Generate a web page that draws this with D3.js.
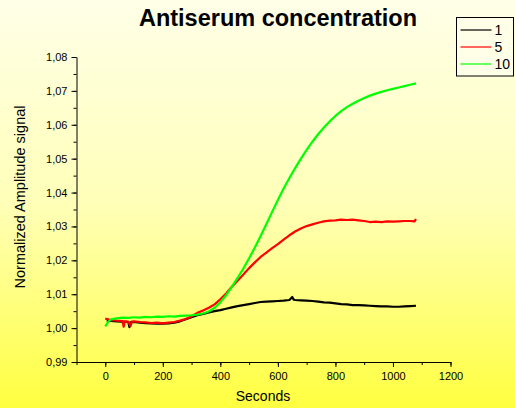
<!DOCTYPE html>
<html>
<head>
<meta charset="utf-8">
<script src="https://cdn.jsdelivr.net/npm/d3@7"></script>
<style>
  body { margin: 0; padding: 0; overflow: hidden; }
  svg { display: block; }
</style>
</head>
<body>
<div id="chart"></div>
<script>
// antiserum concentration - normalized amplitude vs time

const seriesNames = ["1", "5", "10"];
const seriesColors = ["#000000", "#ff0000", "#00ff00"];

// [seconds, normalized amplitude]
const series1 = [
	[5,1.0022],[20,1.0021],[40,1.0020],[60,1.0019],[80,1.0018],[84,1.0003],[88,1.0017],
	[100,1.0018],[120,1.0016],[140,1.0015],[160,1.0014],[180,1.0013],[200,1.0013],[220,1.0014],
	[240,1.0016],[260,1.0020],[280,1.0026],[300,1.0032],[320,1.0038],[340,1.0042],[360,1.0046],
	[380,1.0050],[400,1.0053],[420,1.0057],[440,1.0061],[460,1.0065],[480,1.0068],[500,1.0071],
	[520,1.0074],[540,1.0077],[560,1.0078],[580,1.0079],[600,1.0080],[620,1.0081],[640,1.0083],
	[650,1.0092],[655,1.0084],[660,1.0083],[680,1.0082],[700,1.0081],[720,1.0080],[740,1.0078],
	[760,1.0076],[780,1.0075],[800,1.0073],[820,1.0071],[840,1.0070],[860,1.0068],[880,1.0068],
	[900,1.0067],[920,1.0066],[940,1.0065],[960,1.0064],[980,1.0064],[1000,1.0063],[1020,1.0063],
	[1040,1.0064],[1060,1.0065],[1080,1.0066]
];
const series5 = [
	[0,1.0028],[20,1.0024],[40,1.0022],[60,1.0021],[64,1.0004],[68,1.0020],[80,1.0019],
	[88,1.0006],[92,1.0019],[100,1.0020],[120,1.0018],[140,1.0017],[160,1.0015],[180,1.0016],
	[200,1.0014],[220,1.0016],[240,1.0018],[260,1.0022],[280,1.0027],[300,1.0035],[320,1.0045],
	[340,1.0052],[360,1.0060],[380,1.0070],[400,1.0085],[420,1.0102],[440,1.0122],[460,1.0140],
	[480,1.0158],[500,1.0177],[520,1.0194],[540,1.0210],[560,1.0223],[580,1.0236],[600,1.0248],
	[620,1.0261],[640,1.0274],[660,1.0285],[680,1.0294],[700,1.0301],[720,1.0306],[740,1.0311],
	[760,1.0315],[780,1.0317],[800,1.0318],[820,1.0320],[840,1.0319],[860,1.0320],[880,1.0318],
	[900,1.0316],[920,1.0313],[940,1.0314],[960,1.0313],[980,1.0315],[1000,1.0314],[1020,1.0315],
	[1040,1.0316],[1060,1.0316],[1075,1.0315],[1080,1.0322]
];
const series10 = [
	[0,1.0005],[10,1.0018],[20,1.0026],[40,1.0029],[60,1.0031],[80,1.0030],[100,1.0032],
	[120,1.0031],[140,1.0033],[160,1.0032],[180,1.0034],[200,1.0033],[220,1.0035],[240,1.0034],
	[260,1.0036],[280,1.0037],[300,1.0038],[320,1.0040],[340,1.0043],[360,1.0049],[380,1.0060],
	[400,1.0076],[420,1.0097],[440,1.0122],[460,1.0148],[480,1.0176],[500,1.0206],[520,1.0238],
	[540,1.0272],[560,1.0307],[580,1.0343],[600,1.0378],[620,1.0412],[640,1.0443],[660,1.0472],
	[680,1.0500],[700,1.0526],[720,1.0550],[740,1.0572],[760,1.0592],[780,1.0610],[800,1.0626],
	[820,1.0640],[840,1.0652],[860,1.0662],[880,1.0671],[900,1.0679],[920,1.0686],[940,1.0692],
	[960,1.0697],[980,1.0702],[1000,1.0706],[1020,1.0710],[1040,1.0714],[1060,1.0718],[1080,1.0722]
];

const xTicks = [0, 200, 400, 600, 800, 1000, 1200];
const yTicks = [0.99, 1.00, 1.01, 1.02, 1.03, 1.04, 1.05, 1.06, 1.07, 1.08];

const width = 515, height = 408;
const margin = {left: 76.5, right: 65, top: 57, bottom: 46};
const font = "Arial, 'Liberation Sans', sans-serif";

const svg = d3.select("#chart").append("svg")
	.attr("width", width)
	.attr("height", height);

// background gradient
const grad = svg.append("defs").append("linearGradient")
	.attr("id", "bg")
	.attr("x1", 0).attr("y1", 0).attr("x2", 0).attr("y2", 1);
grad.append("stop").attr("offset", "0%").attr("stop-color", "#ffffe8");
grad.append("stop").attr("offset", "50%").attr("stop-color", "#ffffb8");
grad.append("stop").attr("offset", "100%").attr("stop-color", "#ffff40");
svg.append("rect").attr("width", width).attr("height", height).attr("fill", "url(#bg)");

const x = d3.scaleLinear().domain([-100, 1200]).range([margin.left, 450.5]);
const y = d3.scaleLinear().domain([0.99, 1.08]).range([362, margin.top]);

const fmt = d => d3.format(".2f")(d).replace(".", ",");

// x axis
const xAxis = svg.append("g").attr("transform", "translate(0,362)");
xAxis.append("g")
	.call(d3.axisBottom(x).tickValues(d3.range(-100, 1201, 100)).tickSize(3).tickFormat(""))
	.call(g => g.select(".domain").remove());
xAxis.append("g")
	.call(d3.axisBottom(x).tickValues(xTicks).tickSize(5).tickPadding(5).tickSizeOuter(0).tickFormat(d3.format("d")))
	.call(g => g.selectAll("text").attr("font-size", 11).attr("font-family", font).attr("fill", "#000"));

// y axis
const yAxis = svg.append("g").attr("transform", "translate(" + margin.left + ",0)");
yAxis.append("g")
	.call(d3.axisLeft(y).tickValues(d3.range(0, 19).map(i => 0.99 + i * 0.005)).tickSize(3).tickFormat(""))
	.call(g => g.select(".domain").remove());
yAxis.append("g")
	.call(d3.axisLeft(y).tickValues(yTicks).tickSize(5).tickPadding(4).tickSizeOuter(0).tickFormat(fmt))
	.call(g => g.selectAll("text").attr("font-size", 11).attr("font-family", font).attr("fill", "#000"));

svg.selectAll(".tick line, .domain").attr("stroke", "#000");

// lines
const line = d3.line().x(d => x(d[0])).y(d => y(d[1]));
const allSeries = [series1, series5, series10];
svg.append("g").selectAll("path")
	.data(allSeries)
	.enter().append("path")
	.attr("d", line)
	.attr("fill", "none")
	.attr("stroke", (d, i) => seriesColors[i])
	.attr("stroke-width", 2.2)
	.attr("stroke-linejoin", "round");

// title and axis labels
svg.append("text")
	.attr("x", 278).attr("y", 26)
	.attr("text-anchor", "middle")
	.attr("font-family", font)
	.attr("font-weight", "bold")
	.attr("font-size", 23.5)
	.text("Antiserum concentration");

svg.append("text")
	.attr("x", 263).attr("y", 401)
	.attr("text-anchor", "middle")
	.attr("font-family", font)
	.attr("font-size", 14)
	.text("Seconds");

svg.append("text")
	.attr("transform", "translate(25,197) rotate(-90)")
	.attr("text-anchor", "middle")
	.attr("font-family", font)
	.attr("font-size", 14.5)
	.text("Normalized Amplitude signal");

// legend
const legend = svg.append("g").attr("transform", "translate(456.5,17.5)");
legend.append("rect")
	.attr("width", 57).attr("height", 58.5)
	.attr("fill", "#ffffe8")
	.attr("stroke", "#000");
seriesNames.forEach((name, i) => {
	const row = legend.append("g").attr("transform", "translate(0," + (12.5 + i * 17) + ")");
	row.append("line")
		.attr("x1", 4).attr("x2", 35)
		.attr("stroke", seriesColors[i]).attr("stroke-width", 1.2);
	row.append("text")
		.attr("x", 38).attr("y", 5)
		.attr("font-family", font)
		.attr("font-size", 14)
		.text(name);
});
</script>
</body>
</html>
